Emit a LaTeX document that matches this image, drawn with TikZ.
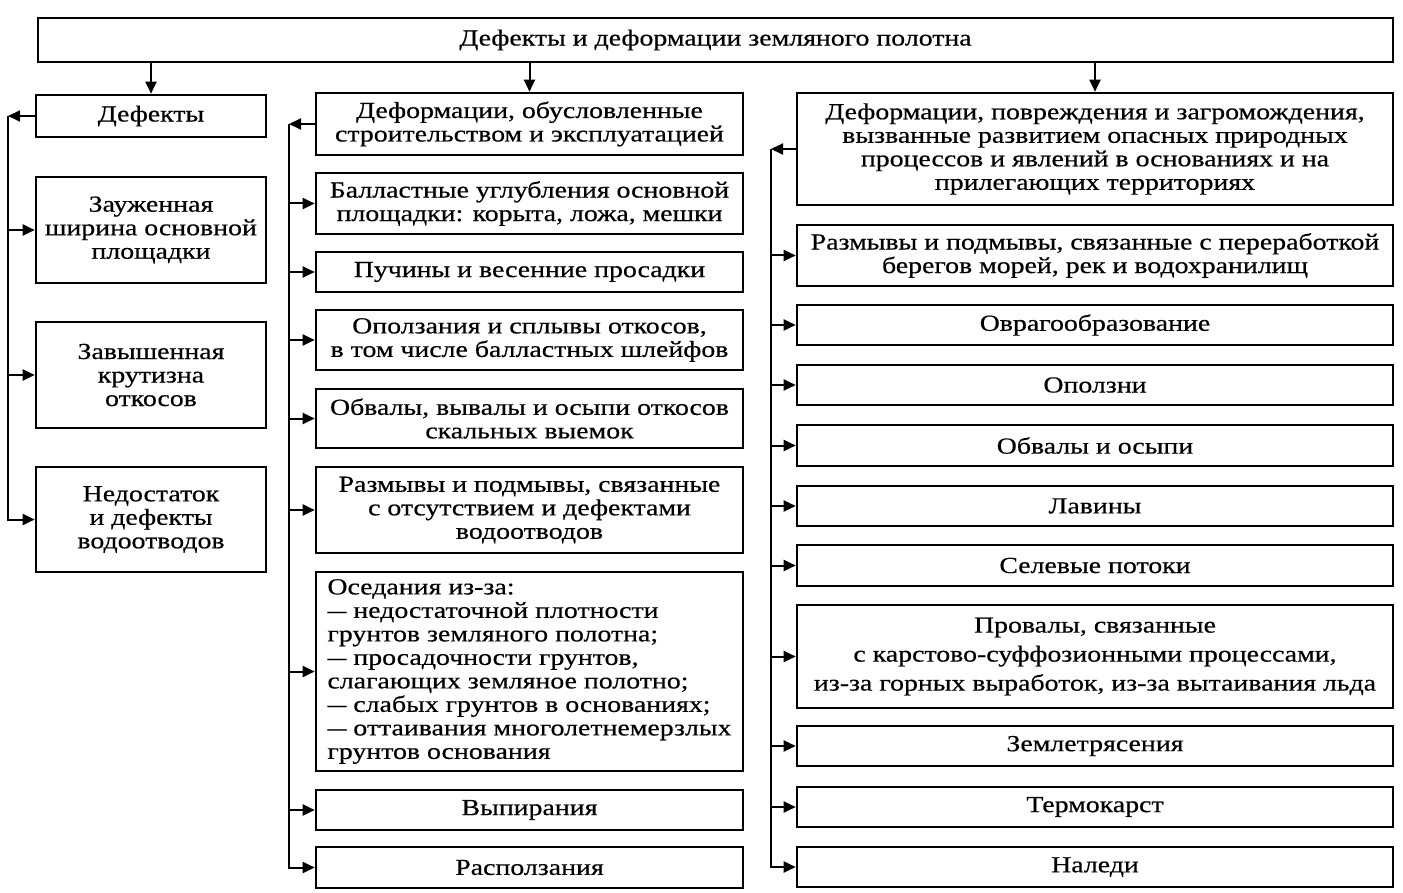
\documentclass[tikz,border=0pt]{standalone}
\usepackage{fontspec}
\setmainfont[FakeStretch=1.21,FakeBold=0.5]{Liberation Serif}
\usetikzlibrary{arrows.meta}
\newcommand\bx[7][]{\node[box,#1, minimum width={#5-#3}, minimum height={#6-#4}] (#2) at ({(#3+#5)/2},{(#4+#6)/2}) {#7};}
\newcommand\dsh{\scalebox{0.68}[1]{—}}
\begin{document}
\begin{tikzpicture}[x=1pt,y=-1pt,
  box/.style={draw, line width=2.6pt, inner sep=0pt, align=center, font=\fontsize{23}{23.5}\selectfont},
  arr/.style={line width=2pt, -{Triangle[length=12pt,width=11pt]}},
  ln/.style={line width=2pt}]
\useasboundingbox (0,0) rectangle (1403,893);
\bx{top}{38}{18}{1393}{62}{Дефекты и деформации земляного полотна}
% column 1
\bx{d0}{36}{95}{266}{137}{Дефекты}
\bx{d1}{36}{177}{266}{283}{Зауженная\\ширина основной\\площадки}
\bx{d2}{36}{322}{266}{428}{Завышенная\\крутизна\\откосов}
\bx{d3}{36}{467}{266}{572}{Недостаток\\и дефекты\\водоотводов}
% column 2
\bx{e0}{316}{93}{743}{155}{Деформации, обусловленные\\строительством и эксплуатацией}
\bx{e1}{316}{173}{743}{234}{Балластные углубления основной\\площадки: корыта, ложа, мешки}
\bx{e2}{316}{252}{743}{292}{Пучины и весенние просадки}
\bx{e3}{316}{310}{743}{370}{Оползания и сплывы откосов,\\в том числе балластных шлейфов}
\bx{e4}{316}{389}{743}{448}{Обвалы, вывалы и осыпи откосов\\скальных выемок}
\bx{e5}{316}{467}{743}{553}{Размывы и подмывы, связанные\\с отсутствием и дефектами\\водоотводов}
\bx[align=left]{e6}{316}{572}{743}{771}{Оседания из-за:\\\dsh{} недостаточной плотности\\грунтов земляного полотна;\\\dsh{} просадочности грунтов,\\слагающих земляное полотно;\\\dsh{} слабых грунтов в основаниях;\\\dsh{} оттаивания многолетнемерзлых\\грунтов основания}
\bx{e7}{316}{790}{743}{830}{Выпирания}
\bx{e8}{316}{847}{743}{888}{Расползания}
% column 3
\bx{f0}{797}{93}{1393}{205}{Деформации, повреждения и загромождения,\\вызванные развитием опасных природных\\процессов и явлений в основаниях и на\\прилегающих территориях}
\bx{f1}{797}{225}{1393}{286}{Размывы и подмывы, связанные с переработкой\\берегов морей, рек и водохранилищ}
\bx{f2}{797}{305}{1393}{345}{Оврагообразование}
\bx{f3}{797}{365}{1393}{405}{Оползни}
\bx{f4}{797}{425}{1393}{466}{Обвалы и осыпи}
\bx{f5}{797}{486}{1393}{526}{Лавины}
\bx{f6}{797}{545}{1393}{586}{Селевые потоки}
\bx[font=\fontsize{23}{29}\selectfont]{f7}{797}{605}{1393}{708}{Провалы, связанные\\с карстово-суффозионными процессами,\\из-за горных выработок, из-за вытаивания льда}
\bx{f8}{797}{726}{1393}{766}{Землетрясения}
\bx{f9}{797}{787}{1393}{827}{Термокарст}
\bx{f10}{797}{847}{1393}{887}{Наледи}
% bus coordinates
\coordinate (b1) at (8,0);
\coordinate (b2) at (289,0);
\coordinate (b3) at (771,0);
% top arrows
\draw[arr] (top.south -| d0.north) -- (d0.north);
\draw[arr] (top.south -| e0.north) -- (e0.north);
\draw[arr] (top.south -| f0.north) -- (f0.north);
% column 1 connectors
\draw[arr] (d0.west) -- (d0.west -| b1);
\draw[arr] (d0.west -| b1) |- (d3.west);
\foreach \n in {d1,d2} \draw[arr] (\n.west -| b1) -- (\n.west);
% column 2 connectors
\draw[arr] (e0.west) -- (e0.west -| b2);
\draw[arr] (e0.west -| b2) |- (e8.west);
\foreach \n in {e1,e2,e3,e4,e5,e6,e7} \draw[arr] (\n.west -| b2) -- (\n.west);
% column 3 connectors
\draw[arr] (f0.west) -- (f0.west -| b3);
\draw[arr] (f0.west -| b3) |- (f10.west);
\foreach \n in {f1,f2,f3,f4,f5,f6,f7,f8,f9} \draw[arr] (\n.west -| b3) -- (\n.west);
\end{tikzpicture}
\end{document}
